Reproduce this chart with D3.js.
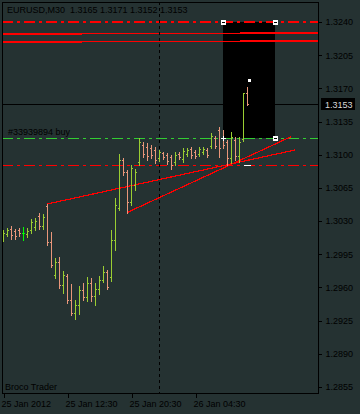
<!DOCTYPE html>
<html><head><meta charset="utf-8">
<script src="https://cdn.jsdelivr.net/npm/d3@7"></script>
<style>
html,body{margin:0;padding:0;background:#253232;}
svg{display:block;}
text{font-family:"Liberation Sans",Arial,sans-serif;font-size:9px;fill:#000;}
</style></head><body>
<svg id="c" width="360" height="414"></svg>
<script>
const symbol = "EURUSD,M30";
const lastOHLC = [1.3165, 1.3171, 1.3152, 1.3153];
const opens  = [1.3012,1.3016,1.3022,1.3020,1.3021,1.3017,1.3016,1.3021,1.3024,1.3035,1.3025,1.3046,1.3008,1.2973,1.2987,1.2963,1.2972,1.2947,1.2933,1.2942,1.2957,1.2950,1.2965,1.2951,1.2958,1.2968,1.2976,1.2971,1.3010,1.3044,1.3094,1.3082,1.3050,1.3068,1.3092,1.3110,1.3108,1.3107,1.3105,1.3097,1.3102,1.3100,1.3098,1.3092,1.3101,1.3096,1.3101,1.3106,1.3103,1.3101,1.3103,1.3105,1.3109,1.3118,1.3126,1.3118,1.3113,1.3097,1.3116,1.3099,1.3117,1.3165];
const highs  = [1.3021,1.3023,1.3025,1.3022,1.3023,1.3024,1.3023,1.3032,1.3033,1.3039,1.3038,1.3048,1.3019,1.2991,1.2992,1.2977,1.2974,1.2964,1.2947,1.2962,1.2965,1.2971,1.2970,1.2965,1.2972,1.2983,1.2978,1.3021,1.3054,1.3101,1.3097,1.3084,1.3089,1.3085,1.3118,1.3113,1.3112,1.3110,1.3108,1.3105,1.3103,1.3102,1.3100,1.3103,1.3103,1.3107,1.3107,1.3108,1.3105,1.3108,1.3108,1.3107,1.3123,1.3120,1.3129,1.3126,1.3116,1.3124,1.3119,1.3119,1.3165,1.3171];
const lows   = [1.3009,1.3014,1.3011,1.3011,1.3014,1.3010,1.3013,1.3017,1.3021,1.3022,1.3022,1.3005,1.2982,1.2970,1.2959,1.2954,1.2944,1.2931,1.2927,1.2932,1.2947,1.2946,1.2946,1.2942,1.2953,1.2966,1.2958,1.2967,1.2999,1.3042,1.3079,1.3039,1.3047,1.3063,1.3089,1.3098,1.3094,1.3097,1.3091,1.3093,1.3096,1.3090,1.3085,1.3089,1.3096,1.3092,1.3099,1.3097,1.3097,1.3099,1.3101,1.3098,1.3107,1.3107,1.3098,1.3107,1.3089,1.3091,1.3094,1.3092,1.3115,1.3152];
const closes = [1.3017,1.3021,1.3015,1.3014,1.3017,1.3017,1.3020,1.3029,1.3030,1.3025,1.3034,1.3008,1.2984,1.2987,1.2963,1.2973,1.2947,1.2933,1.2942,1.2957,1.2950,1.2965,1.2951,1.2958,1.2968,1.2976,1.2961,1.3010,1.3047,1.3094,1.3082,1.3050,1.3086,1.3082,1.3113,1.3101,1.3099,1.3100,1.3094,1.3103,1.3098,1.3093,1.3089,1.3100,1.3098,1.3104,1.3105,1.3100,1.3099,1.3106,1.3106,1.3100,1.3120,1.3109,1.3107,1.3110,1.3097,1.3119,1.3099,1.3113,1.3165,1.3153];

const timeTickIndex  = [0, 16, 32, 48];
const timeTickLabels = ["25 Jan 2012", "25 Jan 12:30", "25 Jan 20:30", "26 Jan 04:30"];
const priceTicks = [1.3240,1.3205,1.3170,1.3135,1.3100,1.3065,1.3030,1.2995,1.2960,1.2925,1.2890,1.2855];
const daySeparatorIndex = 39;

const takeProfitLevel = 1.3240;
const orderOpenLevel  = 1.3118;
const stopLevel       = 1.3089;
const currentBid      = 1.3153;
const orderLabel      = "#33939894 buy";
const brokerLabel     = "Broco Trader";

const bandBreaks = [-0.25, 19.75, 59.25, 78.75];
const bandUpper  = [1.32270, 1.32279, 1.32287];
const bandLower  = [1.32186, 1.32194, 1.32203];
const bandWidths = [2, 1, 2];

const trendA = [[11, 1.3048], [73, 1.3105]];
const trendB = [[31, 1.3039], [72, 1.3119]];

const boxRange = [55, 68];
const boxPrices = [1.3240, 1.3118];
const closeMarker = [61.5, 1.3179];
const orderMarkRange = [60.25, 62];

const svg = d3.select("#c");
const W = 360, H = 414;
const L = 2, R = 318, T = 2, B = 393;

const x = d3.scaleLinear().domain([0, 73]).range([3, 295]);
const y = d3.scaleLinear().domain([1.2855, 1.3240]).range([387, 22]);
const px = v => Math.round(x(v));
const py = v => Math.round(y(v));

svg.append("rect").attr("width", W).attr("height", H).attr("fill", "#253232");

const plot = svg.append("g").attr("shape-rendering", "crispEdges");

// black box
plot.append("rect")
  .attr("x", px(boxRange[0])).attr("y", py(boxPrices[0]))
  .attr("width", px(boxRange[1]) - px(boxRange[0]))
  .attr("height", py(boxPrices[1]) - py(boxPrices[0]))
  .attr("fill", "#000");

// band lines
for (let k = 0; k < 3; k++) {
  [bandUpper, bandLower].forEach(arr => {
    plot.append("line")
      .attr("x1", x(bandBreaks[k])).attr("x2", x(bandBreaks[k + 1]))
      .attr("y1", y(arr[k])).attr("y2", y(arr[k]))
      .attr("stroke", "#ff0000").attr("stroke-width", bandWidths[k]);
  });
}

// level lines
function hLevel(p, color, w, dash) {
  plot.append("line")
    .attr("x1", L).attr("x2", R)
    .attr("y1", py(p) + (w === 1 ? 0.5 : 0)).attr("y2", py(p) + (w === 1 ? 0.5 : 0))
    .attr("stroke", color).attr("stroke-width", w)
    .attr("stroke-dasharray", dash);
}
hLevel(currentBid, "#000", 1, null);
hLevel(takeProfitLevel, "#ff0000", 2, "11,4,3,4");
hLevel(stopLevel, "#ff0000", 1, "11,4,3,4");
hLevel(orderOpenLevel, "#32cd32", 1, "11,4,3,4");

// day separator
plot.append("line")
  .attr("x1", px(daySeparatorIndex) + 0.5).attr("x2", px(daySeparatorIndex) + 0.5)
  .attr("y1", T).attr("y2", B)
  .attr("stroke", "#000").attr("stroke-dasharray", "3,3");

// trend lines
[trendA, trendB].forEach(t => {
  plot.append("line")
    .attr("x1", x(t[0][0])).attr("y1", y(t[0][1]))
    .attr("x2", x(t[1][0])).attr("y2", y(t[1][1]))
    .attr("stroke", "#ff0000").attr("stroke-width", 1.2);
});

// bars
const bars = plot.append("g");
opens.forEach((o, i) => {
  const c = closes[i];
  const col = c > o ? "#9acd32" : (c < o ? "#e9967a" : "#00ff00");
  const xi = px(i);
  const yh = py(highs[i]), yl = py(lows[i]);
  bars.append("rect").attr("x", xi).attr("y", yh).attr("width", 1).attr("height", Math.max(1, yl - yh + 1)).attr("fill", col);
  bars.append("rect").attr("x", xi - 1).attr("y", py(o)).attr("width", 1).attr("height", 1).attr("fill", col);
  bars.append("rect").attr("x", xi + 1).attr("y", py(c)).attr("width", 1).attr("height", 1).attr("fill", col);
});

// markers
function cornerMark(i, p) {
  const cx = px(i), cy = py(p);
  plot.append("rect").attr("x", cx - 2).attr("y", cy - 2).attr("width", 5).attr("height", 5).attr("fill", "#fff");
  plot.append("rect").attr("x", cx - 1).attr("y", cy).attr("width", 3).attr("height", 1).attr("fill", "#000");
}
cornerMark(boxRange[0], boxPrices[0]);
cornerMark(boxRange[1], boxPrices[0]);
cornerMark(boxRange[1], boxPrices[1]);
// order open cross
plot.append("rect").attr("x", px(boxRange[0]) - 2).attr("y", py(boxPrices[1])).attr("width", 5).attr("height", 1).attr("fill", "#fff");
plot.append("rect").attr("x", px(boxRange[0])).attr("y", py(boxPrices[1]) - 2).attr("width", 1).attr("height", 5).attr("fill", "#fff");
plot.append("rect").attr("x", px(closeMarker[0]) - 1).attr("y", py(closeMarker[1]) - 1).attr("width", 3).attr("height", 3).attr("fill", "#fff");
plot.append("rect").attr("x", px(orderMarkRange[0])).attr("y", py(stopLevel))
  .attr("width", px(orderMarkRange[1]) - px(orderMarkRange[0])).attr("height", 1).attr("fill", "#fff");

// frame
plot.append("rect").attr("x", L + 0.5).attr("y", T + 0.5).attr("width", R - L).attr("height", B - T)
  .attr("fill", "none").attr("stroke", "#000");

// axes
const yAxis = d3.axisRight(y).tickValues(priceTicks).tickFormat(d3.format(".4f")).tickSize(3).tickPadding(4);
const gy = svg.append("g").attr("transform", `translate(${R + 0.5},0)`).call(yAxis);
gy.select(".domain").remove();
gy.selectAll("line").attr("stroke", "#000").attr("shape-rendering", "crispEdges");
gy.selectAll("text").attr("fill", "#000").style("font-size", "9px").style("font-family", '"Liberation Sans",Arial,sans-serif');

const xAxis = d3.axisBottom(x).tickValues(timeTickIndex).tickFormat((d, i) => timeTickLabels[i]).tickSize(4).tickPadding(3);
const gx = svg.append("g").attr("transform", `translate(0.5,${B + 0.5})`).call(xAxis);
gx.select(".domain").remove();
gx.selectAll("line").attr("stroke", "#000").attr("shape-rendering", "crispEdges");
gx.selectAll("text").attr("fill", "#000").attr("text-anchor", "start").attr("dx", -2.5)
  .style("font-size", "9px").style("font-family", '"Liberation Sans",Arial,sans-serif');

// current price label
const cy = py(currentBid);
svg.append("rect").attr("x", 321).attr("y", cy - 6).attr("width", 34).attr("height", 12).attr("fill", "#000");
svg.append("text").attr("x", 325).attr("y", cy + 3.5).attr("fill", "#d8d8d8").style("fill", "#d8d8d8")
  .text(d3.format(".4f")(currentBid));

// texts
svg.append("text").attr("x", 7).attr("y", 13).attr("xml:space", "preserve")
  .text(symbol + "  " + lastOHLC.map(d3.format(".4f")).join(" "));
svg.append("text").attr("x", 8).attr("y", py(orderOpenLevel) - 3).text(orderLabel);
svg.append("text").attr("x", 5).attr("y", 390).text(brokerLabel);
</script>
</body></html>
